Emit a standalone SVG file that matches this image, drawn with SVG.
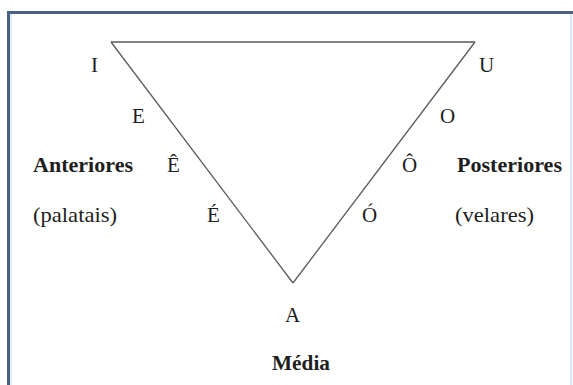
<svg xmlns="http://www.w3.org/2000/svg" width="573" height="385" viewBox="0 0 573 385">
<style>
.t{font-family:"Liberation Serif","Times New Roman",serif;font-size:21px;fill:#1e1e1e}
.b{font-weight:bold}
.edge{stroke:#5a5a5a;stroke-width:1.3;fill:none}
</style>
<rect x="0" y="0" width="573" height="385" fill="#ffffff"/>
<g id="frame">
<rect x="8.5" y="12.5" width="700" height="500" fill="#ffffff" stroke="#4b6183" stroke-width="3"/>
<line x1="11" y1="14" x2="11" y2="385" stroke="#c9dcef" stroke-width="1"/>
<line x1="571" y1="14" x2="571" y2="385" stroke="#d2e2f2" stroke-width="1.5"/>
</g>
<g id="connectors">
<line class="edge" x1="111" y1="42" x2="475" y2="42"/>
<line class="edge" x1="111" y1="42" x2="293" y2="283"/>
<line class="edge" x1="475" y1="42" x2="293" y2="283"/>
</g>
<g id="I"><text class="t" x="91" y="72">I</text></g>
<g id="U"><text class="t" x="479" y="72">U</text></g>
<g id="E"><text class="t" x="132" y="123">E</text></g>
<g id="O"><text class="t" x="440" y="123">O</text></g>
<g id="Ecirc"><text class="t" x="167" y="172">Ê</text></g>
<g id="Ocirc"><text class="t" x="402" y="172">Ô</text></g>
<g id="Eacute"><text class="t" x="207" y="222">É</text></g>
<g id="Oacute"><text class="t" x="362" y="222">Ó</text></g>
<g id="A"><text class="t" x="285" y="322">A</text></g>
<g id="anteriores"><text class="t b" x="33" y="172" textLength="100" lengthAdjust="spacingAndGlyphs">Anteriores</text></g>
<g id="palatais"><text class="t" x="33" y="222" textLength="84" lengthAdjust="spacingAndGlyphs">(palatais)</text></g>
<g id="posteriores"><text class="t b" x="457" y="172" textLength="105" lengthAdjust="spacingAndGlyphs">Posteriores</text></g>
<g id="velares"><text class="t" x="455" y="222" textLength="79" lengthAdjust="spacingAndGlyphs">(velares)</text></g>
<g id="media"><text class="t b" x="272" y="370" textLength="58" lengthAdjust="spacingAndGlyphs">Média</text></g>
</svg>
